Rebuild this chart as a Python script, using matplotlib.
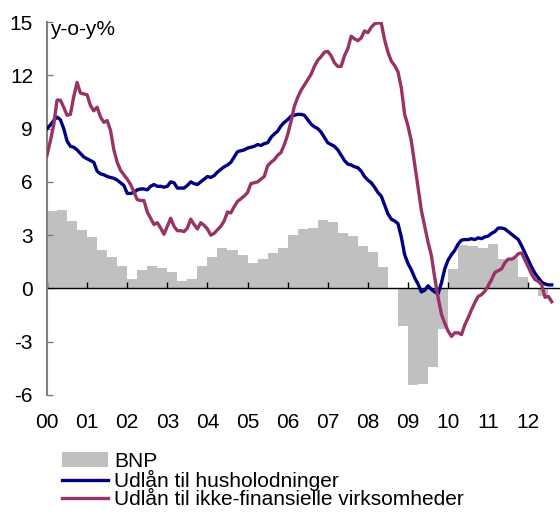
import numpy as np
import matplotlib
matplotlib.use("Agg")
import matplotlib.pyplot as plt
from matplotlib.patches import Patch
from matplotlib.lines import Line2D

plt.rcParams['font.family'] = ['Liberation Sans', 'DejaVu Sans']

# ---------------- data ----------------
start_year = 2000
year_labels = ['00', '01', '02', '03', '04', '05', '06', '07', '08', '09', '10', '11', '12']

# Quarterly GDP (BNP) y-o-y %, 2000Q1 .. 2012Q2
gdp = [4.37, 4.44, 3.82, 3.29,
       2.88, 2.16, 1.75, 1.24,
       0.53, 1.03, 1.24, 1.15,
       0.94, 0.43, 0.53, 1.24,
       1.77, 2.28, 2.18, 1.86,
       1.45, 1.66, 1.98, 2.26,
       3.01, 3.33, 3.42, 3.84,
       3.73, 3.14, 2.97, 2.37,
       2.07, 1.22, -0.05, -2.10,
       -5.45, -5.37, -4.40, -2.30,
       1.08, 2.42, 2.40, 2.30,
       2.52, 1.66, 1.66, 0.66,
       0.03, -0.45]

# Monthly lending to households, y-o-y %, Jan 2000 .. Aug 2012
households = [9.0, 9.2, 9.45, 9.65, 9.5, 9.0, 8.3, 8.0, 7.95, 7.8, 7.6, 7.4,
              7.3, 7.2, 7.1, 6.6, 6.45, 6.4, 6.3, 6.25, 6.2, 6.1, 5.95, 5.8,
              5.35, 5.35, 5.4, 5.55, 5.6, 5.6, 5.55, 5.75, 5.85, 5.75, 5.75, 5.7,
              5.75, 6.0, 5.95, 5.65, 5.65, 5.65, 5.8, 6.0, 5.9, 5.85, 6.0, 6.15,
              6.3, 6.25, 6.35, 6.55, 6.7, 6.85, 6.95, 7.1, 7.4, 7.7, 7.75, 7.8,
              7.9, 7.95, 8.0, 8.1, 8.05, 8.15, 8.2, 8.5, 8.7, 8.85, 9.15, 9.35,
              9.5, 9.7, 9.75, 9.8, 9.8, 9.75, 9.5, 9.25, 9.1, 9.0, 8.8, 8.5,
              8.2, 8.1, 8.0, 7.8, 7.5, 7.2, 7.0, 6.95, 6.85, 6.8, 6.6, 6.3,
              6.1, 5.95, 5.7, 5.4, 5.2, 4.7, 4.2, 3.9, 3.8, 3.65, 2.9, 1.9,
              1.4, 1.05, 0.6, 0.25, -0.2, -0.1, 0.15, -0.05, -0.2, -0.3, 0.3, 1.1,
              1.6, 1.9, 2.15, 2.5, 2.72, 2.75, 2.75, 2.8, 2.75, 2.85, 2.8, 2.9,
              2.95, 3.1, 3.2, 3.4, 3.4, 3.35, 3.2, 3.05, 2.9, 2.75, 2.4, 2.0,
              1.6, 1.2, 0.85, 0.6, 0.35, 0.25, 0.2, 0.2]

# Monthly lending to non-financial corporations, y-o-y %, Jan 2000 .. Aug 2012
firms = [7.5, 8.3, 9.2, 10.6, 10.6, 10.2, 9.75, 9.8, 10.8, 11.6, 11.0, 10.95,
         10.9, 10.3, 10.0, 10.2, 9.65, 9.35, 9.45, 8.9, 7.8, 7.1, 6.65, 6.4,
         6.15, 5.85, 5.45, 5.0, 4.95, 4.95, 4.3, 3.95, 3.6, 3.7, 3.4, 3.05,
         3.5, 3.95, 3.5, 3.25, 3.25, 3.2, 3.4, 3.9, 3.6, 3.35, 3.7, 3.55,
         3.35, 3.0, 3.1, 3.3, 3.5, 3.8, 4.3, 4.25, 4.6, 4.9, 5.05, 5.2,
         5.4, 5.9, 5.95, 6.0, 6.15, 6.3, 6.9, 7.1, 7.25, 7.5, 7.65, 8.1,
         8.65, 9.4, 10.25, 10.75, 11.15, 11.45, 11.75, 12.05, 12.5, 12.85, 13.05, 13.3,
         13.35, 13.1, 12.7, 12.5, 12.5, 13.1, 13.5, 14.2, 14.05, 13.95, 14.1, 14.5,
         14.4, 14.7, 14.9, 14.95, 14.95, 14.0, 13.3, 12.8, 12.55, 12.2, 11.3, 9.8,
         9.15, 8.3, 7.0, 5.7, 4.4, 3.5, 2.6, 1.85, 0.6, -0.5, -1.45, -1.95,
         -2.4, -2.7, -2.5, -2.5, -2.6, -2.05, -1.65, -1.2, -0.8, -0.45, -0.35, -0.15,
         0.15, 0.5, 0.9, 1.0, 1.1, 1.45, 1.65, 1.65, 1.75, 1.95, 2.0, 1.6,
         1.2, 0.8, 0.5, 0.4, 0.2, -0.5, -0.45, -0.75]

labels = ['BNP', 'Udlån til husholodninger', 'Udlån til ikke-finansielle virksomheder']
colors = ['#C0C0C0', '#000080', '#993366']

# ---------------- figure ----------------
W, H = 560, 515
FS = 15
fig = plt.figure(figsize=(W / 100, H / 100), dpi=100)
ax = fig.add_axes([47 / W, 1 - 395 / H, (560 - 47) / W, (395 - 22) / H])

xq = start_year + np.arange(len(gdp)) * 0.25
xm = start_year + np.arange(len(households)) / 12.0

ax.bar(xq, gdp, width=0.25, align='edge', color=colors[0], linewidth=0, zorder=1)
ax.plot(xm, households, color=colors[1], lw=2.4, zorder=3, solid_joinstyle='round')
ax.plot(xm, firms, color=colors[2], lw=2.4, zorder=4, solid_joinstyle='round')

ax.set_xlim(start_year, start_year + 12.79)
ax.set_ylim(-6, 15)

# y axis
ax.set_yticks(np.arange(-6, 16, 3))
ax.set_yticklabels([str(v) for v in range(-6, 16, 3)], fontsize=FS)
ax.tick_params(axis='y', direction='in', length=4, width=1, color='#808080', pad=10)
ax.spines['left'].set_color('#808080')
ax.spines['left'].set_linewidth(1.5)
ax.spines['top'].set_visible(False)
ax.spines['right'].set_visible(False)

# x axis: spine at zero with inward (upward) ticks
years = start_year + np.arange(len(year_labels))
ax.spines['bottom'].set_position(('data', 0))
ax.spines['bottom'].set_color('black')
ax.spines['bottom'].set_linewidth(1.0)
ax.spines['bottom'].set_zorder(2)
ax.set_xticks(years)
ax.tick_params(axis='x', direction='in', length=4, width=1, color='black', labelbottom=False)

sec = ax.secondary_xaxis('bottom')
sec.set_xticks(years)
sec.set_xticklabels(year_labels, fontsize=FS)
sec.tick_params(axis='x', length=0, pad=13)
sec.spines['bottom'].set_visible(False)

ax.text(start_year + 3 / 40.1, 15.1, 'y-o-y%', fontsize=FS, va='top', ha='left')

handles = [Patch(facecolor=colors[0], edgecolor='none'),
           Line2D([], [], color=colors[1], lw=2.4),
           Line2D([], [], color=colors[2], lw=2.4)]
fig.legend(handles, labels, loc='upper left', bbox_to_anchor=(62 / W, 1 - 452 / H),
           frameon=False, fontsize=FS, borderpad=0, borderaxespad=0,
           handlelength=2.2, handleheight=0.72, handletextpad=0.3, labelspacing=-0.04)

fig.savefig('out.png', dpi=100)
